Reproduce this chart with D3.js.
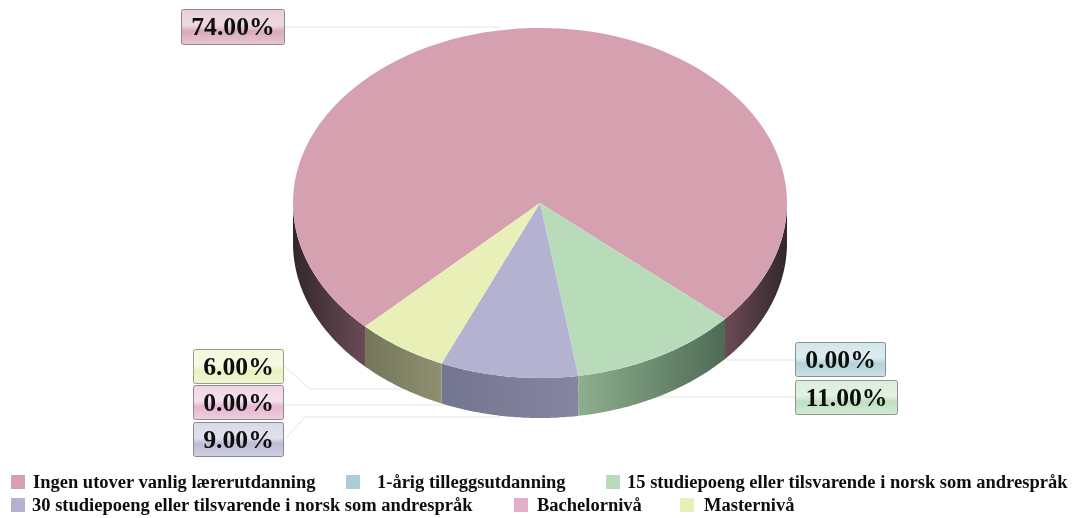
<!DOCTYPE html>
<html><head><meta charset="utf-8">
<script src="https://cdn.jsdelivr.net/npm/d3@7/dist/d3.min.js"></script>
<style>html,body{margin:0;padding:0;background:#fff}svg{display:block;filter:blur(0.35px)}
text{font-family:"Liberation Serif",serif;font-weight:bold;fill:#0e0e0e}</style></head>
<body><div id="chart"></div>
<script>
const categories=["Ingen utover vanlig lærerutdanning","1-årig tilleggsutdanning","15 studiepoeng eller tilsvarende i norsk som andrespråk","30 studiepoeng eller tilsvarende i norsk som andrespråk","Bachelornivå","Masternivå"];
const values=[74,0,11,9,0,6];
const tickLabels=["74.00%","0.00%","11.00%","9.00%","0.00%","6.00%"];
const colors=["#d5a1b1","#aacdd6","#b8dcb9","#b3b3d1","#e3aecb","#e8f0b8"];
const wallNear=["#6b4a55","#7a9aa2","#8eaf8e","#85859f","#a080a0","#8e9070"];
const wallFar=["#33272c","#5a7a82","#4f6b55","#747590","#8a6a80","#74765a"];

const W=1075,H=518,cx=540,cy=203,rx=247,ry=175,depth=40;
const startDeg=225.1;
const svg=d3.select("#chart").append("svg").attr("width",W).attr("height",H);
const defs=svg.append("defs");
const rad=d3.scaleLinear().domain([0,360]).range([0,2*Math.PI]);
const pie=d3.pie().value(d=>d).sort(null).startAngle(rad(startDeg)).endAngle(rad(startDeg+360));
const arcs=pie(values);
const px=t=>cx+rx*Math.sin(t), py=(t,o=0)=>cy-ry*Math.cos(t)+o;

// leader lines
const leaders=[[[284,27],[500,27]],[[885,360],[724,360]],[[795,397],[578,397]],[[283,365],[310,389],[420,389]],[[283,405],[510,405]],[[286,438],[305,417],[500,417]]];
svg.append("g").selectAll("path").data(leaders).join("path")
 .attr("d",d3.line()).attr("fill","none").attr("stroke","#eeeeee").attr("stroke-width",1.5);

// walls: only the part of each slice facing the viewer
const A=Math.PI/2,B=3*Math.PI/2;
const wallParts=[];
arcs.forEach((a,i)=>{
  if(values[i]===0)return;
  [[A,B],[A+2*Math.PI,B+2*Math.PI]].forEach(([lo,hi])=>{
    const s=Math.max(a.startAngle,lo),e=Math.min(a.endAngle,hi);
    if(e>s)wallParts.push({i,s,e});
  });
});
const wall=svg.append("g");
wallParts.forEach((p,k)=>{
  const xs=px(p.s),xe=px(p.e);
  const startNear=Math.abs(xs-cx)<Math.abs(xe-cx);
  const g=defs.append("linearGradient").attr("id","w"+k).attr("gradientUnits","userSpaceOnUse")
    .attr("x1",xs).attr("x2",xe).attr("y1",0).attr("y2",0);
  g.append("stop").attr("offset",0).attr("stop-color",startNear?wallNear[p.i]:wallFar[p.i]);
  g.append("stop").attr("offset",1).attr("stop-color",startNear?wallFar[p.i]:wallNear[p.i]);
  const ts=d3.range(p.s,p.e,0.01).concat([p.e]);
  const top=ts.map(t=>[px(t),py(t)]);
  const bot=ts.slice().reverse().map(t=>[px(t),py(t,depth)]);
  wall.append("path").attr("d",d3.line()(top.concat(bot))+"Z").attr("fill",`url(#w${k})`);
});

// top face: d3.arc in a squashed group
const arcGen=d3.arc().innerRadius(0).outerRadius(rx);
svg.append("g").attr("transform",`translate(${cx},${cy}) scale(1,${ry/rx})`)
 .selectAll("path").data(arcs).join("path").attr("d",arcGen).attr("fill",(d,i)=>colors[i]);

// label boxes
const boxes=[[181,9,103,35,0],[795,342,90,34,1],[795,380,102,34,2],[193,422,90,34,3],[193,385,90,34,4],[193,349,90,34,5]];
boxes.forEach(([x,y,w,h,i])=>{
  const g=defs.append("linearGradient").attr("id","b"+i).attr("x1",0).attr("x2",0).attr("y1",0).attr("y2",1);
  const l=d3.interpolateRgb(colors[i],"#fff");
  g.append("stop").attr("offset",0).attr("stop-color",l(.5));
  g.append("stop").attr("offset",.45).attr("stop-color",l(.6));
  g.append("stop").attr("offset",.62).attr("stop-color",l(.1));
  g.append("stop").attr("offset",1).attr("stop-color",l(.4));
  svg.append("rect").attr("x",x+.5).attr("y",y+.5).attr("width",w).attr("height",h).attr("rx",2)
    .attr("fill",`url(#b${i})`).attr("stroke",d3.interpolateRgb(colors[i],"#777")(.7));
  svg.append("text").attr("x",x+w/2+.5).attr("y",y+h/2+8.5).attr("text-anchor","middle").attr("font-size",25.7).text(tickLabels[i]);
});

// legend
const legendPos=[[11,33,482],[346,377,482],[606,627,482],[11,32,505],[514,537,505],[680,704,505]];
categories.forEach((c,i)=>{
  const [sx,tx,y]=legendPos[i];
  svg.append("rect").attr("x",sx).attr("y",y-7).attr("width",14).attr("height",14).attr("fill",colors[i]);
  svg.append("text").attr("x",tx).attr("y",y+5.5).attr("font-size",18.5).text(c);
});
</script></body></html>
